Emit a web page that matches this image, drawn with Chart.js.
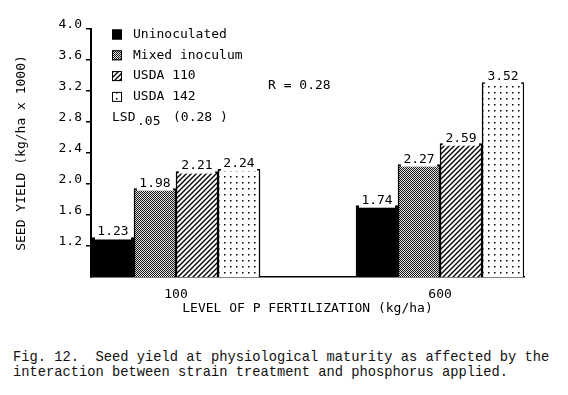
<!DOCTYPE html>
<html>
<head>
<meta charset="utf-8">
<script src="https://cdn.jsdelivr.net/npm/chart.js@4.4.0/dist/chart.umd.min.js"></script>
<style>
body { margin: 0; background: #fff; }
#wrap { position: absolute; left: 0; top: 0; width: 568px; height: 330px; }
#caption {
    position: absolute; left: 13px; top: 350px;
    font-family: 'Liberation Mono', monospace; font-size: 13.75px; line-height: 15px;
    color: #111; white-space: pre;
}
</style>
</head>
<body>
<div id="wrap"><canvas id="SeedYield"></canvas></div>
<div id="caption">Fig. 12.  Seed yield at physiological maturity as affected by the
interaction between strain treatment and phosphorus applied.</div>
<script>
const pLevels = ['100', '600'];
const treatments = ['Uninoculated', 'Mixed inoculum', 'USDA 110', 'USDA 142'];

// bar heights as drawn
const uninoculated = [1.31, 1.72];
const mixedInoculum = [1.94, 2.25];
const usda110 = [2.16, 2.52];
const usda142 = [2.19, 3.31];

// values printed above the bars
const printedUninoculated = ['1.23', '1.74'];
const printedMixed = ['1.98', '2.27'];
const printed110 = ['2.21', '2.59'];
const printed142 = ['2.24', '3.52'];

const yTicks = [1.2, 1.6, 2.0, 2.4, 2.8, 3.2, 3.6, 4.0];

const FONT = '"DejaVu Sans Mono", monospace';

function makePattern(size, draw) {
    let c = document.createElement('canvas');
    c.width = size;
    c.height = size;
    let g = c.getContext('2d');
    draw(g, size);
    return g.createPattern(c, 'repeat');
}

const solidBlack = '#000';
const checker = makePattern(2, (g) => {
    g.fillStyle = '#1a1a1a';
    g.fillRect(0, 0, 2, 2);
    g.fillStyle = '#e0e0e0';
    g.fillRect(1, 0, 1, 1);
    g.fillRect(0, 1, 1, 1);
});
const hatch = makePattern(5, (g, s) => {
    g.fillStyle = '#fff';
    g.fillRect(0, 0, s, s);
    g.strokeStyle = '#000';
    g.lineWidth = 1.4;
    g.beginPath();
    g.moveTo(-1, s + 1); g.lineTo(s + 1, -1);
    g.moveTo(-1, 1); g.lineTo(1, -1);
    g.moveTo(s - 1, s + 1); g.lineTo(s + 1, s - 1);
    g.stroke();
});
const dots = makePattern(6, (g, s) => {
    g.fillStyle = '#fff';
    g.fillRect(0, 0, s, s);
    g.fillStyle = '#000';
    g.fillRect(2, 2, 1.5, 1.5);
});

function series(values) {
    return values.map((v, i) => ({x: i, y: v}));
}

const printed = [printedUninoculated, printedMixed, printed110, printed142];

const figureText = {
    id: 'figureText',
    afterDatasetsDraw(chart) {
        let ctx = chart.ctx;
        ctx.save();
        ctx.font = '13px ' + FONT;
        ctx.textAlign = 'center';
        ctx.textBaseline = 'middle';
        chart.data.datasets.forEach((ds, i) => {
            chart.getDatasetMeta(i).data.forEach((bar, j) => {
                ctx.fillStyle = '#fff';
                ctx.fillRect(bar.x - bar.width / 2 + 3, bar.y - 13, bar.width - 6, 15);
                ctx.fillStyle = '#000';
                ctx.fillText(printed[i][j], bar.x, bar.y - 5.5);
            });
        });
        ctx.restore();
    },
    afterDraw(chart) {
        let ctx = chart.ctx;
        let a = chart.chartArea;
        ctx.save();
        ctx.font = '13px ' + FONT;
        ctx.textBaseline = 'middle';
        chart.data.datasets.forEach((ds, i) => {
            let y = a.top + 5.5 + i * 20.8;
            ctx.fillStyle = ds.backgroundColor;
            ctx.fillRect(a.left + 21, y - 5, 10, 10);
            ctx.strokeStyle = '#000';
            ctx.lineWidth = 1;
            ctx.strokeRect(a.left + 21.5, y - 4.5, 9, 9);
            ctx.fillStyle = '#000';
            ctx.fillText(ds.label, a.left + 42, y);
        });
        let ly = a.top + 89;
        ctx.fillText('LSD', a.left + 21, ly);
        ctx.fillText('.05', a.left + 46, ly + 4);
        ctx.fillText('(0.28 )', a.left + 82, ly);
        ctx.fillText('R = 0.28', a.left + 177, a.top + 56.5);
        ctx.restore();
    }
};

Chart.defaults.font.family = FONT;
Chart.defaults.font.size = 13;
Chart.defaults.color = '#000';

let SeedYield = new Chart(
    document.getElementById('SeedYield'), {
        type: 'bar',
        plugins: [figureText],
        data: {
            datasets: [
                {label: treatments[0], data: series(uninoculated), backgroundColor: solidBlack},
                {label: treatments[1], data: series(mixedInoculum), backgroundColor: checker},
                {label: treatments[2], data: series(usda110), backgroundColor: hatch},
                {label: treatments[3], data: series(usda142), backgroundColor: dots},
            ].map(d => Object.assign(d, {borderColor: '#000', borderWidth: 1.5, barThickness: 42}))
        },
        options: {
            animation: false,
            maintainAspectRatio: false,
            layout: {
                padding: {top: 29, right: 44, left: 0, bottom: 0}
            },
            scales: {
                x: {
                    type: 'linear',
                    offset: false,
                    min: -0.322,
                    max: 1.318,
                    afterBuildTicks: s => { s.ticks = pLevels.map((_, i) => ({value: i})); },
                    afterFit: s => { s.height = 53; },
                    ticks: {
                        callback: v => pLevels[v],
                        padding: 10,
                        maxRotation: 0,
                    },
                    grid: {display: false, drawTicks: false},
                    border: {color: '#000', width: 1.5},
                    title: {
                        display: true,
                        text: 'LEVEL OF P FERTILIZATION (kg/ha)',
                        font: {weight: 'normal'},
                        padding: {top: 0, bottom: 14},
                    },
                },
                y: {
                    min: 0.8,
                    max: 4.0,
                    afterBuildTicks: s => { s.ticks = yTicks.map(v => ({value: v})); },
                    afterFit: s => { s.width = 91; },
                    ticks: {
                        callback: v => v.toFixed(1),
                        labelOffset: -4,
                        padding: 4,
                    },
                    grid: {drawOnChartArea: false, tickLength: 5, color: '#000', lineWidth: 1.5},
                    border: {color: '#000', width: 2},
                    title: {
                        display: true,
                        text: 'SEED YIELD (kg/ha x 1000)',
                        font: {weight: 'normal'},
                        padding: {top: 14, bottom: 0},
                    },
                },
            },
            plugins: {
                legend: {display: false},
                tooltip: {enabled: false},
            },
        },
    }
);
</script>
</body>
</html>
